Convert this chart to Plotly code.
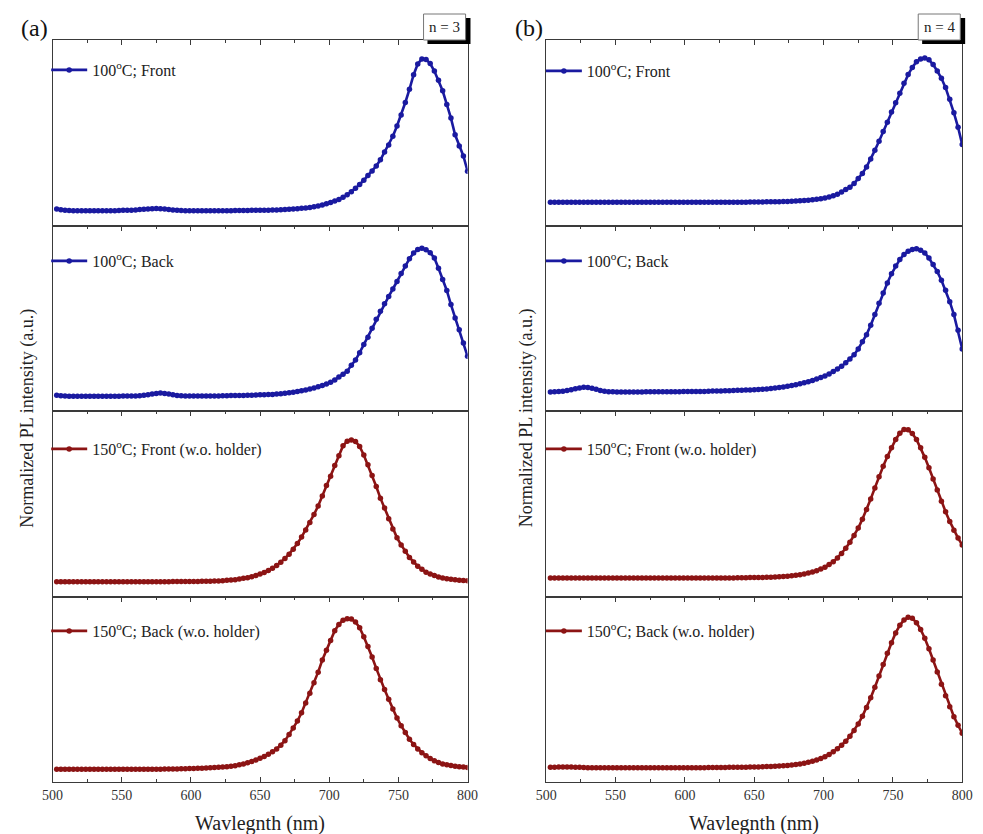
import plotly.graph_objects as go

# ---------------- data ----------------
wavelength = list(range(503, 801, 3))  # nm sampling grid

a_100_front = [
    0.010, 0.006, 0.003, 0.001, 0.000, 0.000, 0.000, 0.000, 0.000, 0.000,
    0.000, 0.000, 0.000, 0.000, 0.000, 0.001, 0.002, 0.002, 0.003, 0.005,
    0.007, 0.009, 0.011, 0.013, 0.014, 0.013, 0.010, 0.007, 0.004, 0.002,
    0.001, 0.000, 0.000, 0.000, 0.000, 0.000, 0.000, 0.000, 0.000, 0.000,
    0.000, 0.000, 0.000, 0.001, 0.001, 0.001, 0.001, 0.002, 0.002, 0.002,
    0.002, 0.003, 0.004, 0.005, 0.006, 0.008, 0.009, 0.011, 0.013, 0.015,
    0.018, 0.021, 0.025, 0.030, 0.037, 0.045, 0.053, 0.063, 0.074, 0.088,
    0.105, 0.124, 0.147, 0.172, 0.200, 0.232, 0.262, 0.294, 0.335, 0.386,
    0.433, 0.490, 0.558, 0.630, 0.713, 0.800, 0.896, 0.967, 1.000, 0.997,
    0.970, 0.920, 0.860, 0.790, 0.700, 0.610, 0.500, 0.426, 0.360, 0.260]

a_100_back = [
    0.007, 0.004, 0.002, 0.001, 0.000, 0.000, 0.000, 0.000, 0.000, 0.000,
    0.000, 0.000, 0.000, 0.000, 0.001, 0.001, 0.002, 0.002, 0.002, 0.003,
    0.004, 0.007, 0.011, 0.016, 0.020, 0.022, 0.020, 0.015, 0.010, 0.006,
    0.004, 0.003, 0.002, 0.002, 0.002, 0.002, 0.003, 0.003, 0.003, 0.003,
    0.004, 0.004, 0.005, 0.005, 0.006, 0.006, 0.007, 0.008, 0.009, 0.010,
    0.011, 0.012, 0.013, 0.015, 0.018, 0.021, 0.024, 0.028, 0.033, 0.038,
    0.043, 0.049, 0.056, 0.064, 0.073, 0.083, 0.095, 0.110, 0.130, 0.150,
    0.170, 0.210, 0.245, 0.295, 0.350, 0.400, 0.460, 0.520, 0.575, 0.625,
    0.675, 0.725, 0.775, 0.830, 0.880, 0.930, 0.968, 0.992, 1.000, 0.990,
    0.970, 0.935, 0.865, 0.790, 0.715, 0.620, 0.530, 0.450, 0.360, 0.270]

a_150_front = [
    0.000, 0.000, 0.000, 0.000, 0.000, 0.000, 0.000, 0.000, 0.000, 0.000,
    0.000, 0.000, 0.000, 0.000, 0.000, 0.000, 0.000, 0.000, 0.000, 0.000,
    0.000, 0.000, 0.000, 0.000, 0.000, 0.000, 0.000, 0.000, 0.001, 0.001,
    0.001, 0.001, 0.002, 0.002, 0.002, 0.003, 0.003, 0.004, 0.005, 0.006,
    0.008, 0.010, 0.012, 0.015, 0.019, 0.024, 0.029, 0.036, 0.044, 0.054,
    0.066, 0.080, 0.095, 0.115, 0.137, 0.165, 0.195, 0.230, 0.270, 0.315,
    0.365, 0.418, 0.475, 0.535, 0.605, 0.680, 0.745, 0.820, 0.890, 0.960,
    0.992, 1.000, 0.990, 0.955, 0.895, 0.825, 0.750, 0.672, 0.590, 0.520,
    0.445, 0.372, 0.310, 0.260, 0.215, 0.172, 0.140, 0.110, 0.088, 0.068,
    0.055, 0.044, 0.034, 0.027, 0.022, 0.018, 0.014, 0.011, 0.009, 0.007]

a_150_back = [
    0.000, 0.000, 0.000, 0.000, 0.000, 0.000, 0.000, 0.000, 0.000, 0.000,
    0.000, 0.000, 0.000, 0.000, 0.000, 0.000, 0.000, 0.000, 0.000, 0.000,
    0.000, 0.000, 0.000, 0.001, 0.001, 0.001, 0.002, 0.002, 0.003, 0.003,
    0.004, 0.004, 0.005, 0.006, 0.007, 0.008, 0.009, 0.011, 0.013, 0.014,
    0.016, 0.018, 0.021, 0.024, 0.030, 0.036, 0.044, 0.052, 0.062, 0.073,
    0.086, 0.100, 0.116, 0.135, 0.160, 0.190, 0.232, 0.275, 0.320, 0.375,
    0.440, 0.505, 0.575, 0.645, 0.725, 0.790, 0.855, 0.920, 0.962, 0.990,
    1.000, 0.997, 0.978, 0.940, 0.880, 0.815, 0.745, 0.670, 0.595, 0.530,
    0.465, 0.400, 0.340, 0.290, 0.245, 0.200, 0.165, 0.135, 0.110, 0.090,
    0.072, 0.057, 0.045, 0.036, 0.030, 0.025, 0.021, 0.017, 0.015, 0.013]

b_100_front = [
    0.000, 0.000, 0.000, 0.000, 0.000, 0.000, 0.000, 0.000, 0.000, 0.000,
    0.000, 0.000, 0.000, 0.000, 0.000, 0.000, 0.000, 0.000, 0.000, 0.000,
    0.000, 0.000, 0.000, 0.000, 0.000, 0.000, 0.000, 0.000, 0.000, 0.000,
    0.000, 0.000, 0.000, 0.000, 0.000, 0.000, 0.000, 0.000, 0.000, 0.000,
    0.000, 0.000, 0.000, 0.000, 0.001, 0.001, 0.001, 0.001, 0.002, 0.002,
    0.002, 0.002, 0.003, 0.003, 0.004, 0.004, 0.005, 0.006, 0.007, 0.009,
    0.010, 0.012, 0.014, 0.017, 0.021, 0.025, 0.030, 0.036, 0.045, 0.055,
    0.072, 0.088, 0.105, 0.130, 0.165, 0.200, 0.245, 0.300, 0.360, 0.423,
    0.490, 0.555, 0.625, 0.690, 0.755, 0.825, 0.885, 0.935, 0.975, 0.994,
    1.000, 0.988, 0.955, 0.910, 0.860, 0.795, 0.715, 0.620, 0.520, 0.400]

b_100_back = [
    0.000, 0.001, 0.003, 0.005, 0.010, 0.016, 0.022, 0.028, 0.032, 0.031,
    0.026, 0.018, 0.010, 0.005, 0.002, 0.001, 0.000, 0.000, 0.000, 0.000,
    0.000, 0.000, 0.000, 0.001, 0.001, 0.001, 0.002, 0.002, 0.002, 0.002,
    0.002, 0.002, 0.003, 0.003, 0.003, 0.004, 0.004, 0.004, 0.005, 0.006,
    0.006, 0.007, 0.008, 0.009, 0.010, 0.011, 0.012, 0.013, 0.014, 0.016,
    0.017, 0.019, 0.021, 0.024, 0.027, 0.031, 0.035, 0.040, 0.045, 0.050,
    0.057, 0.064, 0.072, 0.080, 0.090, 0.100, 0.112, 0.126, 0.142, 0.160,
    0.180, 0.204, 0.230, 0.260, 0.300, 0.350, 0.400, 0.465, 0.540, 0.620,
    0.690, 0.760, 0.825, 0.880, 0.925, 0.960, 0.983, 0.995, 1.000, 0.990,
    0.970, 0.935, 0.890, 0.840, 0.780, 0.710, 0.630, 0.540, 0.430, 0.300]

b_150_front = [
    0.000, 0.000, 0.000, 0.000, 0.000, 0.000, 0.000, 0.000, 0.000, 0.000,
    0.000, 0.000, 0.000, 0.000, 0.000, 0.000, 0.000, 0.000, 0.000, 0.000,
    0.000, 0.000, 0.000, 0.000, 0.000, 0.000, 0.000, 0.000, 0.000, 0.000,
    0.000, 0.000, 0.000, 0.000, 0.000, 0.000, 0.000, 0.000, 0.000, 0.000,
    0.000, 0.000, 0.001, 0.001, 0.001, 0.002, 0.002, 0.002, 0.003, 0.003,
    0.004, 0.004, 0.005, 0.006, 0.007, 0.008, 0.010, 0.012, 0.015, 0.018,
    0.022, 0.027, 0.033, 0.040, 0.049, 0.060, 0.073, 0.090, 0.110, 0.135,
    0.165, 0.200, 0.240, 0.285, 0.335, 0.395, 0.460, 0.530, 0.605, 0.680,
    0.750, 0.815, 0.875, 0.930, 0.972, 0.997, 0.995, 0.970, 0.930, 0.875,
    0.810, 0.740, 0.665, 0.590, 0.515, 0.445, 0.380, 0.320, 0.268, 0.222]

b_150_back = [
    0.004, 0.005, 0.006, 0.007, 0.007, 0.006, 0.005, 0.004, 0.003, 0.002,
    0.002, 0.001, 0.001, 0.001, 0.001, 0.001, 0.001, 0.001, 0.001, 0.001,
    0.001, 0.001, 0.001, 0.001, 0.001, 0.001, 0.001, 0.001, 0.001, 0.001,
    0.001, 0.001, 0.001, 0.002, 0.002, 0.002, 0.002, 0.002, 0.003, 0.003,
    0.003, 0.003, 0.003, 0.004, 0.004, 0.004, 0.005, 0.005, 0.006, 0.006,
    0.007, 0.008, 0.009, 0.010, 0.011, 0.013, 0.015, 0.017, 0.020, 0.023,
    0.027, 0.032, 0.038, 0.045, 0.053, 0.063, 0.075, 0.090, 0.107, 0.127,
    0.150, 0.177, 0.210, 0.248, 0.292, 0.342, 0.400, 0.465, 0.535, 0.610,
    0.685, 0.760, 0.830, 0.895, 0.945, 0.980, 0.998, 0.992, 0.962, 0.918,
    0.860, 0.790, 0.715, 0.635, 0.555, 0.478, 0.405, 0.340, 0.283, 0.230]

series_names = [
    "100<sup>o</sup>C; Front",
    "100<sup>o</sup>C; Back",
    "150<sup>o</sup>C; Front (w.o. holder)",
    "150<sup>o</sup>C; Back (w.o. holder)",
]
tick_values = [500, 550, 600, 650, 700, 750, 800]

# ---------------- styling / layout ----------------
W, H = 983, 834
FONT = "Liberation Serif"
BLUE = "#1a1aa0"
RED = "#8c1414"
FRAME = "#3a3a3a"


def fx(x):
    return x / W


def fy(y):
    return 1 - y / H


col_px = [(42.5, 467.0), (547.5, 973.0)]
row_px = [(40.0, 225.5), (225.5, 411.0), (411.0, 596.5), (596.5, 782.0)]

panels = [
    # (col, row, values, name, color, yrange, legend y px)
    (0, 0, a_100_front, series_names[0], BLUE, [-0.098, 1.125], 70),
    (0, 1, a_100_back, series_names[1], BLUE, [-0.099, 1.154], 261),
    (0, 2, a_150_front, series_names[2], RED, [-0.104, 1.205], 449),
    (0, 3, a_150_back, series_names[3], RED, [-0.084, 1.147], 631),
    (1, 0, b_100_front, series_names[0], BLUE, [-0.161, 1.125], 71),
    (1, 1, b_100_back, series_names[1], BLUE, [-0.133, 1.162], 261),
    (1, 2, b_150_front, series_names[2], RED, [-0.124, 1.121], 449),
    (1, 3, b_150_back, series_names[3], RED, [-0.093, 1.136], 631),
]

fig = go.Figure()
layout = dict(
    width=W, height=H,
    margin=dict(l=0, r=0, t=0, b=0),
    paper_bgcolor="white", plot_bgcolor="white",
    font=dict(family=FONT, color="#222222", size=14),
    showlegend=True,
)

for i, (col, row, vals, name, color, yr, leg_y) in enumerate(panels, start=1):
    xs = "" if i == 1 else str(i)
    leg = "legend" if i == 1 else f"legend{i}"
    fig.add_trace(go.Scatter(
        x=wavelength, y=vals, mode="lines+markers", name=name,
        line=dict(color=color, width=2.6),
        marker=dict(color=color, size=5.5, symbol="circle"),
        xaxis=f"x{xs}", yaxis=f"y{xs}", legend=leg,
    ))
    x0, x1 = col_px[col]
    y0, y1 = row_px[row]
    bottom = row == 3
    layout[f"xaxis{xs}"] = dict(
        domain=[fx(x0), fx(x1)], range=[500, 800], anchor=f"y{xs}",
        side="bottom" if bottom else "top",
        showline=True, linecolor=FRAME, linewidth=1.3,
        mirror="ticks" if bottom else True,
        ticks="inside", ticklen=5, tickwidth=1.2, tickcolor=FRAME,
        tickvals=tick_values, showticklabels=bottom,
        tickfont=dict(family=FONT, size=14, color="#333333"),
        minor=dict(ticks="inside", ticklen=3, tickwidth=1.0, tickcolor=FRAME,
                   dtick=25, tick0=500, showgrid=False),
        showgrid=False, zeroline=False, fixedrange=True,
    )
    layout[f"yaxis{xs}"] = dict(
        domain=[fy(y1), fy(y0)], range=yr, anchor=f"x{xs}",
        showline=True, linecolor=FRAME, linewidth=1.3, mirror=True,
        ticks="", showticklabels=False, showgrid=False, zeroline=False,
        fixedrange=True,
    )
    lx = 36 if col == 0 else 542
    layout[leg] = dict(
        x=fx(lx), y=fy(leg_y), xanchor="left", yanchor="middle",
        bgcolor="rgba(0,0,0,0)", borderwidth=0,
        font=dict(family=FONT, size=16, color="#222222"),
        itemwidth=36, tracegroupgap=0,
    )

fig.update_layout(**layout)

annotations = []
for (x0, x1), plab, ylab_x, plab_x in [
        (col_px[0], "(a)", 16, 24), (col_px[1], "(b)", 527, 530)]:
    annotations.append(dict(
        x=fx((x0 + x1) / 2), y=fy(823), xref="paper", yref="paper",
        text="Wavlegnth (nm)", showarrow=False, xanchor="center",
        yanchor="middle", font=dict(family=FONT, size=20, color="#222222")))
    annotations.append(dict(
        x=fx(ylab_x), y=fy(418), xref="paper", yref="paper",
        text="Normalized PL intensity (a.u.)", showarrow=False,
        textangle=-90, xanchor="center", yanchor="middle",
        font=dict(family=FONT, size=18, color="#222222")))
    annotations.append(dict(
        x=fx(plab_x), y=fy(28), xref="paper", yref="paper",
        text=plab, showarrow=False, xanchor="center", yanchor="middle",
        font=dict(family=FONT, size=24, color="#111111")))

shapes = []
for bx0, bx1, ntxt in [(422, 465, "n = 3"), (928, 971, "n = 4")]:
    shapes.append(dict(type="rect", xref="paper", yref="paper",
                       x0=fx(bx0 + 4), x1=fx(bx1 + 5), y0=fy(44), y1=fy(18),
                       fillcolor="black", line=dict(width=0), layer="above"))
    shapes.append(dict(type="rect", xref="paper", yref="paper",
                       x0=fx(bx0), x1=fx(bx1), y0=fy(40), y1=fy(14),
                       fillcolor="white", line=dict(color="#777777", width=1),
                       layer="above"))
    annotations.append(dict(
        x=fx((bx0 + bx1) / 2), y=fy(27), xref="paper", yref="paper",
        text=ntxt, showarrow=False, xanchor="center", yanchor="middle",
        font=dict(family=FONT, size=15, color="#222222")))

fig.update_layout(annotations=annotations, shapes=shapes)
fig.write_html("out.html")
